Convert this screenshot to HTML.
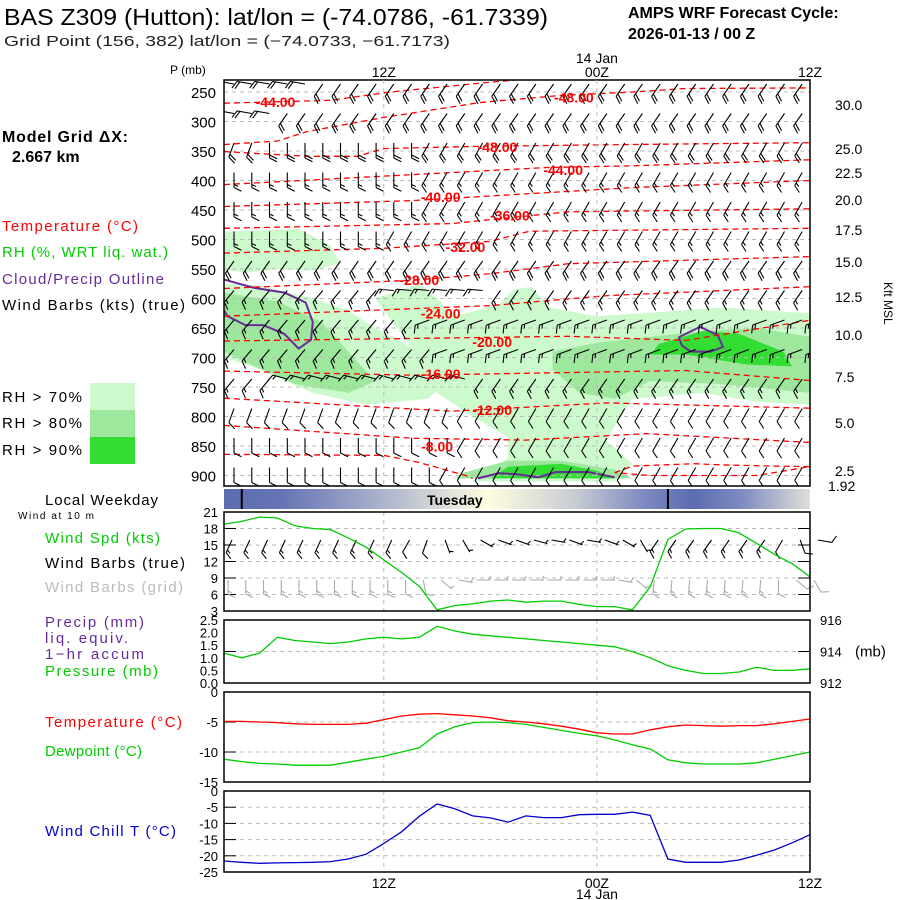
<!DOCTYPE html>
<html><head><meta charset="utf-8"><style>
html,body{margin:0;padding:0;background:#fff;}
svg{display:block;font-family:"Liberation Sans",sans-serif;}
</style></head><body>
<svg id="chart" width="900" height="900" viewBox="0 0 900 900" xmlns="http://www.w3.org/2000/svg">
<rect width="900" height="900" fill="#fff"/>
<defs>
<linearGradient id="dayGrad" x1="224" x2="810" y1="0" y2="0" gradientUnits="userSpaceOnUse">
<stop offset="0" stop-color="#5c6cb0"/><stop offset="0.1" stop-color="#6674b4"/><stop offset="0.3" stop-color="#b8bed0"/>
<stop offset="0.45" stop-color="#fefde0"/><stop offset="0.6" stop-color="#c8ccd4"/><stop offset="0.72" stop-color="#7c88c0"/>
<stop offset="0.8" stop-color="#5c6cb0"/><stop offset="0.88" stop-color="#7c88c0"/><stop offset="1" stop-color="#e0e0d8"/>
</linearGradient>
<clipPath id="mainClip"><rect x="224" y="80" width="586" height="406"/></clipPath>
</defs>
<g>
<text x="4" y="25" font-size="23" textLength="544" lengthAdjust="spacingAndGlyphs">BAS Z309 (Hutton):  lat/lon = (-74.0786, -61.7339)</text>
<text x="4" y="46" font-size="15" fill="#222" textLength="446" lengthAdjust="spacingAndGlyphs">Grid Point (156, 382) lat/lon = (−74.0733, −61.7173)</text>
<text x="628" y="18" font-size="16" font-weight="bold">AMPS WRF Forecast Cycle:</text>
<text x="628" y="39" font-size="16" font-weight="bold">2026-01-13 / 00  Z</text>
</g>
<g font-size="15" lengthAdjust="spacingAndGlyphs">
<text x="2" y="142" font-size="16" font-weight="bold" textLength="126">Model Grid ΔX:</text>
<text x="12" y="162" font-size="16" font-weight="bold">2.667 km</text>
<text x="2" y="231" fill="#f00" textLength="136">Temperature (°C)</text>
<text x="2" y="257" fill="#0c0" textLength="166">RH (%, WRT liq. wat.)</text>
<text x="2" y="284" fill="#6a2a9a" textLength="162">Cloud/Precip Outline</text>
<text x="2" y="310" fill="#000" textLength="183">Wind Barbs (kts) (true)</text>
<rect x="90" y="383" width="45" height="27" fill="#ccfacc"/>
<rect x="90" y="410" width="45" height="27" fill="#9ee89e"/>
<rect x="90" y="437" width="45" height="27" fill="#33dd33"/>
<text x="2" y="402" textLength="80">RH &gt; 70%</text>
<text x="2" y="428" textLength="80">RH &gt; 80%</text>
<text x="2" y="455" textLength="80">RH &gt; 90%</text>
<text x="45" y="505" textLength="113">Local Weekday</text>
<text x="18" y="519" font-size="10" textLength="76">Wind at 10 m</text>
<text x="45" y="543" fill="#0c0" textLength="115">Wind Spd (kts)</text>
<text x="45" y="568" textLength="140">Wind Barbs (true)</text>
<text x="45" y="592" fill="#bbb" textLength="138">Wind Barbs (grid)</text>
<text x="45" y="627" fill="#6a2a9a" textLength="99">Precip (mm)</text>
<text x="45" y="643" fill="#6a2a9a" textLength="83">liq. equiv.</text>
<text x="45" y="659" fill="#6a2a9a" textLength="99">1−hr accum</text>
<text x="45" y="676" fill="#0c0" textLength="113">Pressure (mb)</text>
<text x="45" y="727" fill="#f00" textLength="137">Temperature (°C)</text>
<text x="45" y="756" fill="#0c0" textLength="97">Dewpoint (°C)</text>
<text x="45" y="836" fill="#00c" textLength="131">Wind Chill T (°C)</text>
</g>
<g id="plots"></g>
</svg>
<script>
// ---- data ----
const hours = [0,1,2,3,4,5,6,7,8,9,10,11,12,13,14,15,16,17,18,19,20,21,22,23,24,25,26,27,28,29,30,31,32,33];
const windSpd = [18.8,19.3,20.1,19.9,18.5,18.0,17.8,16.3,14.6,12.3,10.0,7.5,3.2,4.0,4.3,4.8,5.0,4.6,4.8,4.8,4.2,3.8,3.8,3.2,7.4,16.0,17.9,18.0,18.0,17.2,15.3,13.3,11.6,9.2];
const pressure = [913.9,913.6,913.9,914.9,914.7,914.6,914.5,914.6,914.8,914.9,914.8,914.9,915.6,915.3,915.1,915.0,914.9,914.8,914.7,914.6,914.5,914.4,914.3,914.0,913.6,913.1,912.8,912.6,912.6,912.7,913.0,912.8,912.8,912.9];
const sfcTemp = [-4.9,-4.9,-5.0,-5.1,-5.3,-5.4,-5.4,-5.4,-5.2,-4.6,-4.0,-3.7,-3.6,-3.8,-4.0,-4.3,-4.8,-5.0,-5.3,-5.7,-6.2,-6.8,-7.0,-7.0,-6.3,-5.8,-5.5,-5.6,-5.7,-5.6,-5.6,-5.3,-4.9,-4.5];
const dewpoint = [-11.2,-11.6,-11.9,-12.0,-12.2,-12.2,-12.2,-11.7,-11.2,-10.7,-10.0,-9.3,-7.0,-5.8,-5.1,-5.0,-5.1,-5.4,-5.9,-6.4,-6.9,-7.3,-8.0,-8.8,-9.5,-11.3,-11.8,-12.0,-12.0,-12.0,-11.8,-11.2,-10.6,-10.0];
const windChill = [-21.6,-22.0,-22.3,-22.2,-22.1,-22.0,-21.8,-21.0,-19.5,-16.2,-12.6,-7.8,-4.0,-5.5,-7.7,-8.3,-9.6,-7.7,-8.2,-8.2,-7.3,-7.2,-7.2,-6.5,-7.5,-21.0,-22.0,-22.0,-22.0,-21.3,-19.8,-18.2,-16.0,-13.5];
const sfcWindDir = [205,205,205,205,205,205,205,205,205,205,210,200,160,150,120,110,110,105,100,110,100,110,120,150,215,215,215,215,215,215,215,210,160,100];
const sfcWindSpd = [15,15,15,15,15,15,15,15,15,15,10,10,5,5,5,5,5,5,5,5,5,5,5,5,15,15,15,15,15,15,15,10,10,10];
const gridWindDir = [180,180,180,180,180,180,180,180,180,180,180,170,130,100,90,90,90,90,90,90,90,90,100,130,185,185,185,185,185,185,185,180,130,150];
const levels = [250,300,350,400,450,500,550,600,650,700,750,800,850,900];
const levelDirEarly = [280,280,200,180,180,180,215,220,220,220,220,200,180,180];
const levelDirMid = [215,215,180,180,180,180,215,275,250,250,285,200,180,180];
const levelDirLate = [215,215,210,210,210,210,215,215,250,250,215,210,210,210];
const levelMidStart = [5,3,2,0,0,0,0,9,11,12,3,0,0,0];
const levelLateStart = [5,3,11,11,11,9,0,15,11,12,14,13,13,12];
const levelSpd = [20,20,20,15,15,15,20,15,15,15,15,10,10,10];
const pTicks = [250,300,350,400,450,500,550,600,650,700,750,800,850,900];
const kftTicks = [[30.0,105],[25.0,149],[22.5,173],[20.0,200],[17.5,230],[15.0,262],[12.5,297],[10.0,335],[7.5,377],[5.0,423],[2.5,471]];
const tContours = [
 ["-44", [[0,269],[6,264],[9.4,250],[14.4,235],[17,228]]],
 ["-48", [[0,339],[3,333],[4.7,317],[9,293],[14.4,268],[18.9,256],[23,250],[26,244],[33,243]]],
 ["-48b", [[0,351],[4.7,359],[7.5,359],[9,346],[14.4,342],[23,339],[33,336]]],
 ["-44b", [[0,407],[18.2,378],[23,375],[33,365]]],
 ["-40", [[0,444],[10.6,434],[23,412],[33,400]]],
 ["-36", [[0,481],[12.8,473],[19.4,453],[33,448]]],
 ["-32", [[0,523],[9,515],[15,503],[17.2,486],[33,481]]],
 ["-28", [[0,583],[10.7,569],[15,558],[19.4,541],[33,529]]],
 ["-24", [[0,630],[15,612],[21.6,595],[33,580]]],
 ["-20", [[0,672],[19.4,664],[26,671],[33,637]]],
 ["-16", [[0,723],[10.7,730],[26,722],[33,739]]],
 ["-12", [[0,769],[12.8,791],[21.6,777],[33,786]]],
 ["-8", [[0,815],[10.7,837],[17,840],[23.8,829],[33,844]]],
 ["-4", [[0,864],[9,866],[11,878],[13.6,900],[14,905]]],
 ["-4b", [[22,895],[23,884],[26.5,880],[28,882],[31,884],[33,885],[30,900],[24,900],[22,895]]]
];
const tLabels = [["-44.00",2.9,267],["-48.00",19.7,259],["-48.00",15.4,343],["-44.00",19.1,382],["-40.00",12.2,428],["-36.00",16.1,459],["-32.00",13.6,513],["-28.00",11.0,569],["-24.00",12.2,625],["-20.00",15.1,674],["-16.00",12.2,728],["-12.00",15.1,789],["-8.00",12.0,851]];
const rhLight = [
 [[0,487],[4.2,482],[6.0,510],[6.5,540],[5,553],[3,550],[1.5,556],[0,552]],
 [[0,575],[2,578],[5,600],[7,620],[8.5,650],[11,690],[12.5,740],[11.5,770],[8,780],[5,760],[2,720],[0,700]],
 [[8.5,600],[11,575],[12,600],[13,630],[15.5,610],[16.3,585],[17.3,580],[18.3,615],[21,630],[26,620],[28,615],[33,625],[33,780],[30,775],[27,760],[23,770],[21.5,840],[23,880],[22,910],[14,910],[16,870],[16,835],[14,800],[12,760],[11,700],[10,660]]
];
const rhMid = [
 [[0,590],[3,605],[5.5,640],[7,690],[8.5,740],[7,760],[4,745],[1,705],[0,690]],
 [[18.5,690],[21,675],[27,655],[30,650],[33,665],[33,760],[28,745],[24,740],[22,770],[20,760],[18.5,720]],
 [[13.5,895],[16,875],[19,875],[22,890],[23,905],[13,905]]
];
const rhDark = [
 [[24.5,677],[27,655],[29,660],[31.5,690],[32,715],[29.5,712],[26,695],[24,695]],
 [[15,905],[16,885],[19,880],[21,892],[22,905]]
];
const cloudOutlines = [
 [[0,568],[1.7,582],[3.4,590],[4.6,607],[5.0,640],[4.9,670],[4.2,685],[3.4,660],[2.2,645],[1.2,645],[0.2,630],[0,620]],
 [[25.6,666],[26.8,648],[27.8,662],[28.1,682],[27.4,690],[26.3,690],[25.8,680],[25.6,666]],
 [[14.3,905],[15.5,896],[16.5,898],[17.7,903],[18.7,894],[20.5,894],[22,903]]
];

// ---- axes ----
const X0 = 224, X1 = 810;
function xH(h){ return X0 + h*(X1-X0)/33; }
function yP(p){ return 92 + (p-250)*29.5/50; }
function yW(v){ return 611 - (v-3)*5.5; }
function yPr(p){ return 683 - (p-912)*15.75; }
function yT(t){ return 692 - t*6; }
function yC(t){ return 791 - t*3.24; }

const NS = "http://www.w3.org/2000/svg";
const root = document.getElementById("plots");
function mk(tag, attrs, parent){
  const e = document.createElementNS(NS, tag);
  for (const k in attrs) e.setAttribute(k, attrs[k]);
  (parent||root).appendChild(e);
  return e;
}
function txt(x,y,s,attrs,parent){ const t = mk("text", Object.assign({x:x,y:y}, attrs||{}), parent); t.textContent = s; return t; }

const main = mk("g", {});


const shade = mk("g", {"clip-path":"url(#mainClip)"}, main);


function polyStr(pts){ return pts.map(p => xH(p[0]).toFixed(1)+","+yP(p[1]).toFixed(1)).join(" "); }
rhLight.forEach(pts => { const e = mk("polygon", {points:polyStr(pts), fill:"#ccfacc"}, shade);   });
rhMid.forEach(pts => { const e = mk("polygon", {points:polyStr(pts), fill:"#9ee89e"}, shade);   });
rhDark.forEach(pts => { const e = mk("polygon", {points:polyStr(pts), fill:"#33dd33"}, shade);   });
pTicks.forEach(p => {
  const l = mk("line", {x1:X0, x2:X1, y1:yP(p), y2:yP(p), stroke:"#bbb", "stroke-dasharray":"4,4"}, main);
  
  
  const t = txt(216, yP(p)+6, String(p), {"font-size":"15", "text-anchor":"end"}, main);
  
  
});
[9,21].forEach(h => {
  [[80,486],[512,611],[620,683],[692,782],[791,872]].forEach(r => {
    const l = mk("line", {x1:xH(h), x2:xH(h), y1:r[0], y2:r[1], stroke:"#bbb", "stroke-dasharray":"4,4"});
    
    
  });
});
const co = mk("g", {"clip-path":"url(#mainClip)"}, main);
cloudOutlines.forEach(pts => {
  const e = mk("polyline", {points:polyStr(pts), fill:"none", stroke:"#6a2a9a", "stroke-width":"2"}, co);
  
  
});
const tc = mk("g", {"clip-path":"url(#mainClip)"}, main);
tContours.forEach(c => {
  const e = mk("polyline", {points:polyStr(c[1]), fill:"none", stroke:"#f00", "stroke-width":"1.3", "stroke-dasharray":"6,4"}, tc);
  
  
});
function barb(g, x, y, dir, spd, color, len){
  const a = dir*Math.PI/180;
  const ux = Math.sin(a), uy = -Math.cos(a);
  const ex = x + ux*len, ey = y + uy*len;
  let d = "M"+x.toFixed(1)+","+y.toFixed(1)+"L"+ex.toFixed(1)+","+ey.toFixed(1);
  const qx = uy, qy = -ux;
  const fl = len*0.5;
  let rem = spd, pos = 0;
  while (rem >= 10){
    const bx = ex - ux*pos, by = ey - uy*pos;
    d += "M"+bx.toFixed(1)+","+by.toFixed(1)+"L"+(bx+qx*fl+ux*fl*0.5).toFixed(1)+","+(by+qy*fl+uy*fl*0.5).toFixed(1);
    rem -= 10; pos += 3;
  }
  if (rem >= 5){
    const off = pos ? pos : 2;
    const bx = ex - ux*off, by = ey - uy*off;
    d += "M"+bx.toFixed(1)+","+by.toFixed(1)+"L"+(bx+qx*fl*0.55+ux*fl*0.27).toFixed(1)+","+(by+qy*fl*0.55+uy*fl*0.27).toFixed(1);
  }
  const p = mk("path", {d:d, fill:"none", stroke:color, "stroke-width":"1.1"}, g);
  
  
}
const wb = mk("g", {"clip-path":"url(#mainClip)"}, main);


levels.forEach((p, i) => {
  hours.forEach(h => {
    let dir = levelDirEarly[i];
    if (h >= levelMidStart[i]) dir = levelDirMid[i];
    if (h >= levelLateStart[i]) dir = levelDirLate[i];
    barb(wb, xH(h)+10, yP(p)-8, dir, levelSpd[i], "#000", 15);
  });
});
tLabels.forEach(l => {
  const t = txt(xH(l[1]), yP(l[2])+5, l[0], {"font-size":"14", "font-weight":"bold", fill:"#f00", "text-anchor":"middle"}, main);
  
  
});
const mf = mk("rect", {x:X0, y:80, width:X1-X0, height:406, fill:"none", stroke:"#000", "stroke-width":"1.5"}, main);


kftTicks.forEach(k => {
  const t = txt(835, k[1]+5, k[0].toFixed(1), {"font-size":"14"}, main);
  
  
});
{ const t = txt(828, 491, "1.92", {"font-size":"14"}, main);   }
{ const t = txt(0, 0, "Kft MSL", {"font-size":"12", transform:"translate(884,282) rotate(90)"}, main);   }
{ const t = txt(170, 74, "P (mb)", {"font-size":"12"}, main);   }
[[9,"12Z"],[21,"00Z"],[33,"12Z"]].forEach(a => {
  const t = txt(xH(a[0]), 77, a[1], {"font-size":"14", "text-anchor":"middle"});
  
  
  const b = txt(xH(a[0]), 888, a[1], {"font-size":"14", "text-anchor":"middle"});
  
  
});
{ const t = txt(xH(21), 63, "14 Jan", {"font-size":"14", "text-anchor":"middle"});   }
{ const t = txt(xH(21), 899, "14 Jan", {"font-size":"14", "text-anchor":"middle"});   }

const wd = mk("g", {});


mk("rect", {x:X0, y:489, width:X1-X0, height:20, fill:"url(#dayGrad)"}, wd);
mk("line", {x1:xH(1), x2:xH(1), y1:489, y2:509, stroke:"#000", "stroke-width":"2"}, wd);
mk("line", {x1:xH(25), x2:xH(25), y1:489, y2:509, stroke:"#000", "stroke-width":"2"}, wd);
{ const t = txt(xH(13), 505, "Tuesday", {"font-size":"14", "font-weight":"bold", "text-anchor":"middle"}, wd);   }

function panel(name, top, bot, ticks, yf, fmt, dashed, tickSide){
  const g = mk("g", {});
  
  
  dashed.forEach(v => { mk("line", {x1:X0, x2:X1, y1:yf(v), y2:yf(v), stroke:"#bbb", "stroke-dasharray":"4,4"}, g); });
  ticks.forEach(v => {
    const t = txt(218, yf(v)+5, fmt(v), {"font-size":"13", "text-anchor":"end"}, g);
    
    
  });
  dashed.forEach(v => {
    mk("line", {x1:X0, x2:X0+12, y1:yf(v), y2:yf(v), stroke:"#000"}, g);
    if (tickSide) mk("line", {x1:X1-12, x2:X1, y1:yf(v), y2:yf(v), stroke:"#000"}, g);
  });
  return g;
}
function line(g, vals, yf, color, name){
  const pts = hours.map((h,i) => xH(h).toFixed(1)+","+yf(vals[i]).toFixed(1)).join(" ");
  const e = mk("polyline", {points:pts, fill:"none", stroke:color, "stroke-width":"1.3"}, g);
  
  
}
const wTicks = [21,18,15,12,9,6,3];
const gW = panel("wind-panel", 512, 611, wTicks, yW, v => String(v), [18,15,12,9,6], true);
const sb = mk("g", {}, gW);


hours.forEach((h,i) => {
  barb(sb, xH(h)+8, 540, sfcWindDir[i], sfcWindSpd[i], "#000", 14);
  barb(sb, xH(h)+4, 580, gridWindDir[i], sfcWindSpd[i], "#aaa", 14);
});
line(gW, windSpd, yW, "#0c0", "wind-speed-line");
mk("rect", {x:X0, y:512, width:X1-X0, height:99, fill:"none", stroke:"#000", "stroke-width":"1.5"}, gW);
const prTicks = [2.5,2.0,1.5,1.0,0.5,0.0];
const gP = panel("pressure-panel", 620, 683, prTicks, v => 683 - v*25.2, v => v.toFixed(1), [], false);
mk("line", {x1:X0, x2:X1, y1:yPr(914), y2:yPr(914), stroke:"#bbb", "stroke-dasharray":"4,4"}, gP);
mk("line", {x1:X0, x2:X0+12, y1:yPr(914), y2:yPr(914), stroke:"#000"}, gP);
mk("line", {x1:X1-12, x2:X1, y1:yPr(914), y2:yPr(914), stroke:"#000"}, gP);
[916,914,912].forEach(v => {
  const t = txt(820, yPr(v)+5, String(v), {"font-size":"13"}, gP);
  
  
});
{ const t = txt(855, yPr(914)+5, "(mb)", {"font-size":"15"}, gP);   }
line(gP, pressure, yPr, "#0c0", "pressure-line");
mk("rect", {x:X0, y:620, width:X1-X0, height:63, fill:"none", stroke:"#000", "stroke-width":"1.5"}, gP);
const tTicks = [0,-5,-10,-15];
const gT = panel("temperature-panel", 692, 782, tTicks, yT, v => String(v), [-5,-10], false);
line(gT, dewpoint, yT, "#0c0", "dewpoint-line");
line(gT, sfcTemp, yT, "#f00", "temperature-line");
mk("rect", {x:X0, y:692, width:X1-X0, height:90, fill:"none", stroke:"#000", "stroke-width":"1.5"}, gT);
const cTicks = [0,-5,-10,-15,-20,-25];
const gC = panel("wind-chill-panel", 791, 872, cTicks, yC, v => String(v), [-5,-10,-15,-20], false);
line(gC, windChill, yC, "#00c", "wind-chill-line");
mk("rect", {x:X0, y:791, width:X1-X0, height:81, fill:"none", stroke:"#000", "stroke-width":"1.5"}, gC);
</script>
</body></html>
